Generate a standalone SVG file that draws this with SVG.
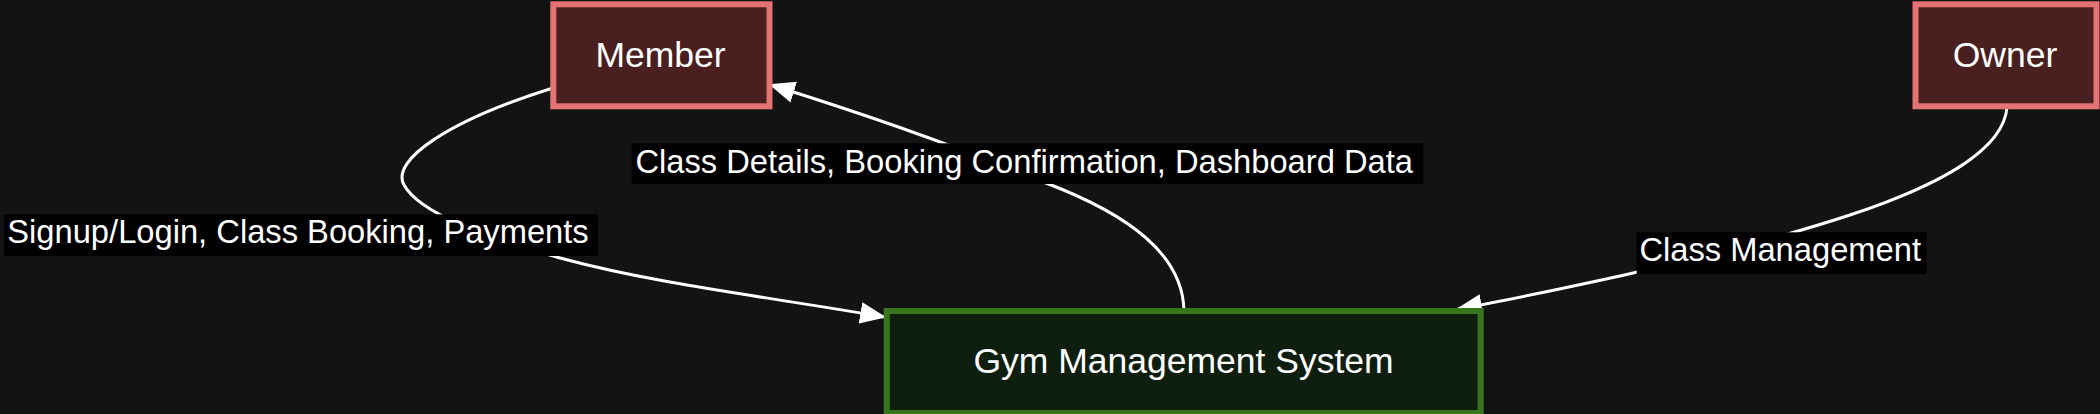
<svg xmlns="http://www.w3.org/2000/svg" width="2100" height="414" viewBox="0 0 2100 414">
<defs>
<style>
.bg{fill:#131313}
.actor rect{fill:#4a1f1f;stroke:#e57373;stroke-width:6}
.sys rect{fill:#0f1f0f;stroke:#38761d;stroke-width:6}
.ntext{font-family:"Liberation Sans",Arial,sans-serif;font-size:35.5px;fill:#ffffff;text-anchor:middle}
.edge{fill:none;stroke:#ffffff;stroke-width:3}
.lbg{fill:#000000}
.ltext{font-family:"Liberation Sans",Arial,sans-serif;font-size:32.7px;fill:#ffffff;text-anchor:middle}
</style>
<marker id="arrow" viewBox="0 0 12 10" markerUnits="userSpaceOnUse" markerWidth="26" markerHeight="22" refX="11" refY="5" orient="auto">
<path d="M0,0 L12,5 L0,10 z" fill="#ffffff"/>
</marker>
</defs>
<rect class="bg" x="0" y="0" width="2100" height="414"/>
<g id="connectors">
<path class="edge" d="M553,88 C450,120 390,160 404,185 C420,213 480,235 560,258 C660,285 770,297 884,317" marker-end="url(#arrow)"/>
<path class="edge" d="M1184,311 C1183,255 1130,215 1046,183 C990,160 900,125 771,85" marker-end="url(#arrow)"/>
<path class="edge" d="M2007,107 C2004,150 1940,185 1850,215 C1780,238 1700,258 1620,276 C1560,289 1510,300 1458,309" marker-end="url(#arrow)"/>
</g>
<g id="edge-labels">
<g id="label-signup">
<rect class="lbg" x="4" y="214.3" width="594" height="41.7"/>
<text class="ltext" x="298" y="243">Signup/Login, Class Booking, Payments</text>
</g>
<g id="label-details">
<rect class="lbg" x="631.7" y="143.3" width="791.6" height="40.7"/>
<text class="ltext" x="1024.2" y="173">Class Details, Booking Confirmation, Dashboard Data</text>
</g>
<g id="label-mgmt">
<rect class="lbg" x="1636.7" y="232.3" width="290" height="41.7"/>
<text class="ltext" x="1780.2" y="261">Class Management</text>
</g>
</g>
<g id="member" class="actor">
<rect x="553.3" y="4.3" width="216.2" height="102"/>
<text class="ntext" x="660.5" y="67">Member</text>
</g>
<g id="owner" class="actor">
<rect x="1915.5" y="4.3" width="181" height="102"/>
<text class="ntext" x="2005" y="67">Owner</text>
</g>
<g id="gym" class="sys">
<rect x="886.8" y="311" width="593.9" height="102"/>
<text class="ntext" x="1183.5" y="373">Gym Management System</text>
</g>
</svg>
